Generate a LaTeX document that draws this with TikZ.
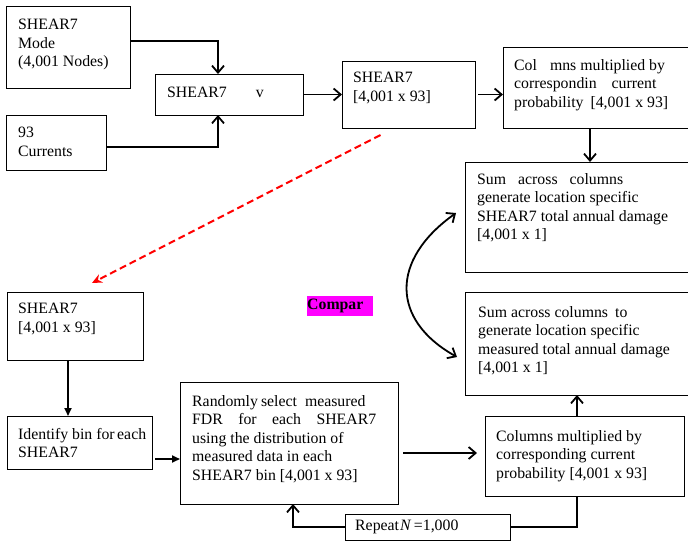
\documentclass[tikz,border=0pt]{standalone}
\usepackage{fontspec}
\setmainfont{Liberation Serif}
\usetikzlibrary{positioning,arrows.meta}
\definecolor{cmpfill}{RGB}{255,0,255}

\begin{document}
\begin{tikzpicture}[x=1pt, y=-1pt, >={Straight Barb[length=7pt,width=12pt]},
  box/.style={draw, line width=1pt, anchor=north west, inner sep=0pt, outer sep=0pt},
  txt/.style={align=left, inner sep=0pt, font=\fontsize{15.8}{18.5}\selectfont},
  arr/.style={->, line width=1.8pt},
  tri/.style={-{Triangle[length=8pt,width=7pt]}, line width=1.8pt}]

\useasboundingbox (0,0) rectangle (688,542);
\clip (0,0) rectangle (688,542);

% boxes
\foreach \n/\x/\y/\w/\h in {mode/6/6/124/82, curr/6/115/100/55, shv/155/74/148/41,
    mat/342/61/133/67, colm/503/47/190/81, sumv/465/162/228/110,
    summ/465/292/228/103, matl/7/292/136/68, bin/7/416/145/53,
    rand/180/382/218/122, colk/485/416/199/80, rep/345/514/165/26}
  \node [box, minimum width=\w, minimum height=\h] (\n) at (\x,\y) {};

% texts
\node [txt, below right=13pt and 12pt of mode.north west] (mode-t) {SHEAR7\\Mode\\(4,001 Nodes)};
\node [txt, below right=12pt and 12pt of curr.north west] (curr-t) {93\\Currents};
\node [txt, below right=13pt and 12pt of shv.north west] (shv-t) {SHEAR7\hspace{29pt}v};
\node [txt, below right=11pt and 11pt of mat.north west] (mat-t) {SHEAR7\\{}[4,001 x 93]};
\node [txt, below right=12pt and 11pt of colm.north west] (colm-t)
  {Col\hspace{13pt}mns multiplied by\\correspondin\hspace{15pt}current\\probability\hspace{7pt}[4,001 x 93]};
\node [txt, below right=11pt and 12pt of sumv.north west] (sumv-t)
  {\makebox[146pt][s]{Sum across columns}\\generate location specific\\SHEAR7 total annual damage\\{}[4,001 x 1]};
\node [txt, below right=14pt and 13pt of summ.north west] (summ-t)
  {Sum across columns\hspace{7pt}to\\generate location specific\\measured total annual damage\\{}[4,001 x 1]};
\node [txt, below right=11pt and 11pt of matl.north west] (matl-t) {SHEAR7\\{}[4,001 x 93]};
\node [txt, below right=12pt and 11pt of bin.north west] (bin-t) {Identify bin for\hspace{2.5pt}each\\SHEAR7};
\node [txt, below right=13pt and 12pt of rand.north west] (rand-t)
  {Randomly\hspace{3pt}select\hspace{8pt}measured\\\makebox[184pt][s]{FDR for each SHEAR7}\\using the distribution of\\measured data in each\\SHEAR7 bin [4,001 x 93]};
\node [txt, below right=14pt and 11pt of colk.north west] (colk-t)
  {Columns multiplied by\\corresponding current\\probability [4,001 x 93]};
\node [txt, right=10pt of rep.west] (rep-t) {Repeat\kern1pt\textit{N}\,=1,000};

\node [fill=cmpfill, anchor=north west, minimum width=66, minimum height=20, inner sep=0pt,
  text width=66pt, font=\fontsize{15.8}{18.5}\selectfont\bfseries] (cmp) at (307,296) {Compar};

% connectors
\draw [arr] ([yshift=6pt]mode.east) -| ([xshift=-11pt]shv.north);
\draw [arr] ([yshift=-4.5pt]curr.east) -| ([xshift=-11pt]shv.south);
\draw [arr] (shv.east) -- (mat.west);
\draw [arr, shorten <=3pt] (mat.east) -- (mat.east -| colm.west);
\draw [arr] ([xshift=-8pt]colm.south) -- ([xshift=-8pt]colm.south |- sumv.north);
\draw [red, line width=2pt, dash pattern=on 7pt off 4pt, -{Stealth[length=10pt,width=9pt]}]
  ([xshift=-28pt,yshift=-7pt]mat.south) -- ([xshift=17pt,yshift=9pt]matl.north);
\draw [<->, line width=1.8pt] ([xshift=-9pt,yshift=4pt]sumv.west)
  .. controls +(-66,47) and +(-66,-37) .. ([xshift=-8pt,yshift=-13.5pt]summ.west);
\draw [tri] ([xshift=-7pt]matl.south) -- ([xshift=-7pt]matl.south |- bin.north);
\draw [tri, shorten <=3pt] ([yshift=-16.5pt]bin.east) -- ([yshift=-16.5pt]bin.east -| rand.west);
\draw [arr, shorten <=5pt, shorten >=8pt] ([yshift=3pt]colk.west -| rand.east) -- ([yshift=3pt]colk.west);
\draw [line width=1.8pt] ([xshift=-7.5pt]colk.south) |- (rep.east);
\draw [arr] (rep.west) -| ([xshift=4pt]rand.south);
\draw [arr] ([xshift=-7.5pt]colk.north) -- ([xshift=-7.5pt]colk.north |- summ.south);

\end{tikzpicture}
\end{document}
